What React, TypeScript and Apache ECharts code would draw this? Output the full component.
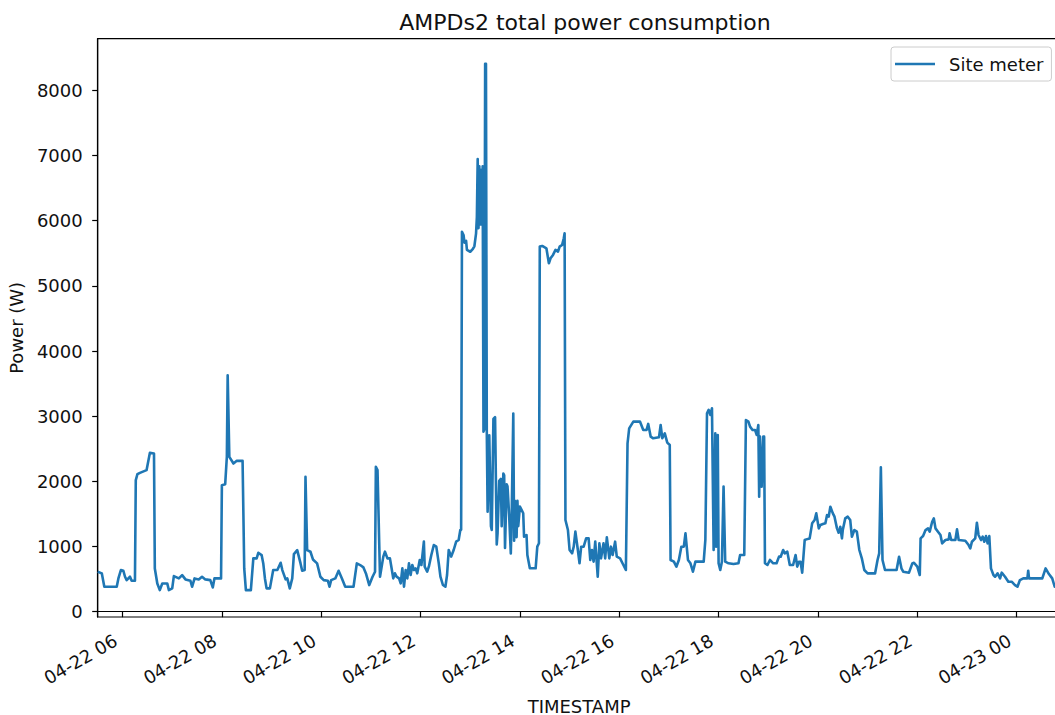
import React, { useEffect, useRef } from "react";
import * as echarts from "echarts";

// Site meter readings for 2013-04-22 05:30 .. 2013-04-23 00:53
// x: minutes since 04-22 00:00, y: watts
const seriesName = "Site meter";

const minutes = [
  330, 335, 338, 353, 355, 358, 361, 363, 365, 369, 371, 375, 376, 378, 381, 389, 393, 398, 399, 402,
  405, 408, 414, 416, 420, 422, 428, 432, 436, 442, 444, 447, 452, 456, 460, 466, 469, 471, 479, 480,
  484, 486, 487, 489, 494, 498, 505, 507, 509, 515, 518, 522, 524, 528, 530, 532, 534, 538, 542, 547,
  551, 553, 557, 559, 562, 565, 567, 571, 575, 577, 580, 581, 583, 587, 590, 595, 599, 603, 608, 610,
  612, 617, 621, 625, 629, 639, 643, 647, 651, 654, 658, 662, 665, 666, 668, 671, 675, 677, 680, 683,
  685, 687, 689, 691, 694, 696, 698, 700, 702, 704, 706, 708, 710, 712, 714, 716, 719, 721, 724, 725,
  728, 730, 733, 736, 739, 742, 744, 747, 750, 752, 754, 757, 760, 763, 766, 768, 769, 770, 772, 773,
  775, 776, 780, 783, 785, 787, 788, 789, 790, 791, 792, 793, 794, 795, 796, 797, 798, 799, 800, 801,
  803, 805, 806, 808, 810, 812, 813, 815, 817, 818, 820, 821, 822, 824, 825, 827, 829, 830, 832, 833,
  834, 836, 837, 838, 840, 842, 844, 845, 848, 849, 852, 859, 861, 863, 864, 867, 872, 875, 877, 880,
  883, 886, 888, 891, 893, 894, 895, 898, 900, 903, 905, 907, 910, 912, 914, 917, 920, 923, 925, 927,
  929, 931, 934, 936, 938, 941, 943, 945, 948, 950, 952, 955, 957, 961, 965, 968, 970, 972, 977, 985,
  989, 993, 995, 998, 1001, 1008, 1010, 1012, 1015, 1018, 1021, 1022, 1026, 1029, 1032, 1035, 1038, 1040, 1043, 1046,
  1049, 1052, 1062, 1064, 1066, 1068, 1070, 1072, 1074, 1076, 1077, 1079, 1080, 1082, 1084, 1086, 1088, 1092, 1098, 1104,
  1106, 1111, 1113, 1116, 1118, 1121, 1124, 1126, 1128, 1129, 1130, 1132, 1134, 1135, 1136, 1139, 1142, 1146, 1150, 1153,
  1155, 1158, 1160, 1163, 1166, 1170, 1173, 1175, 1177, 1179, 1181, 1184, 1186, 1190, 1193, 1196, 1198, 1201, 1203, 1206,
  1209, 1211, 1213, 1215, 1218, 1220, 1223, 1225, 1227, 1229, 1230, 1233, 1236, 1239, 1241, 1244, 1247, 1250, 1253, 1256,
  1260, 1269, 1272, 1274, 1276, 1278, 1281, 1295, 1298, 1301, 1303, 1310, 1314, 1316, 1320, 1323, 1324, 1327, 1330, 1333,
  1335, 1338, 1340, 1342, 1345, 1348, 1350, 1354, 1358, 1359, 1361, 1366, 1368, 1370, 1378, 1382, 1384, 1386, 1390, 1392,
  1394, 1397, 1399, 1401, 1403, 1405, 1407, 1409, 1412, 1414, 1417, 1420, 1422, 1426, 1430, 1434, 1438, 1441, 1444, 1448,
  1453, 1454, 1455, 1465, 1471, 1475, 1479, 1483, 1486, 1490, 1493,
];

const watts = [
  613, 588, 383, 383, 511, 639, 629, 537, 485, 537, 475, 475, 2018, 2110, 2131, 2172, 2437, 2427, 664, 434,
  332, 434, 434, 332, 358, 547, 511, 562, 496, 475, 383, 511, 496, 537, 496, 485, 373, 511, 511, 1942,
  1957, 2376, 3628, 2376, 2274, 2315, 2315, 664, 332, 332, 818, 818, 904, 869, 741, 511, 358, 358, 639, 639,
  751, 639, 496, 511, 358, 511, 884, 945, 741, 628, 639, 2070, 945, 920, 802, 741, 537, 485, 475, 383,
  485, 511, 628, 511, 383, 383, 741, 716, 680, 588, 409, 537, 613, 2223, 2172, 537, 845, 921, 819, 819,
  666, 512, 589, 538, 512, 435, 665, 384, 640, 512, 742, 563, 717, 640, 665, 589, 793, 717, 1075, 691,
  614, 691, 870, 1024, 998, 742, 538, 410, 384, 563, 947, 845, 947, 1075, 1100, 1254, 1256, 5830, 5774, 5663,
  5691, 5551, 5523, 5562, 5607, 5802, 6053, 6946, 5886, 6834, 5942, 6778, 5942, 6834, 2762, 2800, 8407, 8407, 2762, 1535,
  2706, 1312, 1256, 2957, 2985, 1033, 1200, 2009, 2037, 1312, 2121, 2093, 977, 1954, 1926, 1479, 893, 1424, 3041, 1089,
  1702, 1145, 1702, 1312, 1612, 1563, 1510, 1152, 1177, 870, 666, 666, 998, 1050, 5602, 5612, 5576, 5346, 5423, 5474,
  5551, 5525, 5602, 5628, 5730, 5807, 1408, 1254, 947, 896, 998, 1229, 947, 743, 998, 998, 1126, 1126, 794, 947,
  768, 1075, 538, 1050, 819, 1050, 819, 1142, 819, 998, 870, 1075, 845, 819, 717, 640, 2584, 2814, 2917, 2917,
  2789, 2789, 2881, 2686, 2661, 2676, 2865, 2661, 2737, 2594, 2558, 794, 768, 691, 794, 998, 998, 1203, 794, 743,
  615, 768, 768, 1101, 3044, 3096, 3019, 3121, 947, 2737, 998, 2712, 743, 640, 768, 1919, 768, 743, 732, 743,
  870, 870, 2942, 2917, 2840, 2789, 2789, 2712, 2865, 1766, 2686, 1919, 2686, 2686, 743, 717, 794, 743, 743, 845,
  844, 947, 895, 921, 716, 716, 870, 691, 767, 767, 599, 1100, 1110, 1125, 1356, 1407, 1509, 1279, 1330, 1345,
  1356, 1483, 1458, 1611, 1509, 1458, 1279, 1212, 1304, 1125, 1253, 1432, 1458, 1407, 1151, 1253, 1228, 947, 819, 640,
  588, 588, 793, 895, 2215, 793, 640, 640, 844, 660, 614, 599, 742, 752, 691, 563, 1126, 1161, 1253, 1279,
  1228, 1381, 1432, 1279, 1228, 1177, 1049, 1100, 1110, 1202, 1100, 1100, 1264, 1100, 1090, 1023, 972, 1074, 1126, 1366,
  1177, 1100, 1151, 1074, 1161, 1049, 1161, 665, 563, 537, 588, 512, 599, 537, 461, 461, 409, 384, 486, 512,
  512, 629, 512, 512, 512, 665, 578, 512, 384, 390, 370,
];

const xTickMinutes = [360, 480, 600, 720, 840, 960, 1080, 1200, 1320, 1440];
const yTickValues = [0, 1000, 2000, 3000, 4000, 5000, 6000, 7000, 8000];
const xExtent = [330, 1493];
const yExtent = [-81, 8792];

const FONT = "DejaVu Sans";
const INK = "#111111";
const LINE_BLUE = "#1f77b4";

function tickLabel(m: number): string {
  const day = 22 + Math.floor(m / 1440);
  const hour = Math.floor((m % 1440) / 60);
  return `04-${day} ${String(hour).padStart(2, "0")}`;
}

export default function App() {
  const ref = useRef<HTMLDivElement>(null);

  useEffect(() => {
    if (!ref.current) return;
    const chart = echarts.init(ref.current, undefined, { renderer: "svg" });
    chart.setOption({
      animation: false,
      backgroundColor: "#ffffff",
      textStyle: { fontFamily: FONT },
      title: {
        text: "AMPDs2 total power consumption",
        left: 580,
        textAlign: "center",
        top: 6,
        textStyle: { fontFamily: FONT, fontSize: 22, fontWeight: "normal", color: INK },
      },
      legend: {
        data: [{ name: seriesName, icon: "rect" }],
        left: 891,
        top: 47,
        padding: [8, 8, 8, 4],
        itemWidth: 40,
        itemHeight: 2.6,
        borderColor: "#cccccc",
        borderWidth: 1,
        borderRadius: 3,
        backgroundColor: "rgba(255,255,255,0.8)",
        textStyle: { fontFamily: FONT, fontSize: 18, color: INK, padding: [0, 0, 0, 9] },
      },
      grid: {
        left: 97.7,
        top: 38.7,
        right: -5.5,
        bottom: 98,
        show: true,
        borderColor: "#000000",
        borderWidth: 1.2,
        outerBoundsMode: "none",
      },
      xAxis: {
        type: "value",
        min: xExtent[0],
        max: xExtent[1],
        name: "TIMESTAMP",
        nameLocation: "middle",
        nameGap: 80,
        nameTextStyle: { fontFamily: FONT, fontSize: 18, color: INK },
        axisLine: { show: true, lineStyle: { color: "#000000", width: 1.2 } },
        axisTick: {
          show: true,
          length: 5.5,
          lineStyle: { color: "#000000", width: 1.2 },
          customValues: xTickMinutes,
        },
        axisLabel: {
          rotate: 30,
          margin: 18,
          fontFamily: FONT,
          fontSize: 18,
          color: INK,
          padding: [0, 8, 0, 0],
          customValues: xTickMinutes,
          formatter: (v: number) => tickLabel(v),
        },
        splitLine: { show: false },
      },
      yAxis: {
        type: "value",
        min: yExtent[0],
        max: yExtent[1],
        name: "Power (W)",
        nameLocation: "middle",
        nameGap: 71,
        nameTextStyle: { fontFamily: FONT, fontSize: 18, color: INK },
        axisLine: { show: true, lineStyle: { color: "#000000", width: 1.2 } },
        axisTick: {
          show: true,
          length: 5.5,
          lineStyle: { color: "#000000", width: 1.2 },
          customValues: yTickValues,
        },
        axisLabel: {
          margin: 15,
          fontFamily: FONT,
          fontSize: 18,
          color: INK,
          customValues: yTickValues,
          formatter: (v: number) => String(v),
        },
        splitLine: { show: false },
      },
      series: [
        {
          name: seriesName,
          type: "line",
          data: minutes.map((m, i) => [m, watts[i]]),
          symbol: "none",
          showSymbol: false,
          clip: true,
          color: LINE_BLUE,
          itemStyle: { color: LINE_BLUE },
          lineStyle: { color: LINE_BLUE, width: 2.6, join: "round" },
        },
      ],
    });
    return () => chart.dispose();
  }, []);

  return (
    <div
      ref={ref}
      style={{ position: "fixed", left: 0, top: 0, width: 1055, height: 715, overflow: "hidden" }}
    />
  );
}
